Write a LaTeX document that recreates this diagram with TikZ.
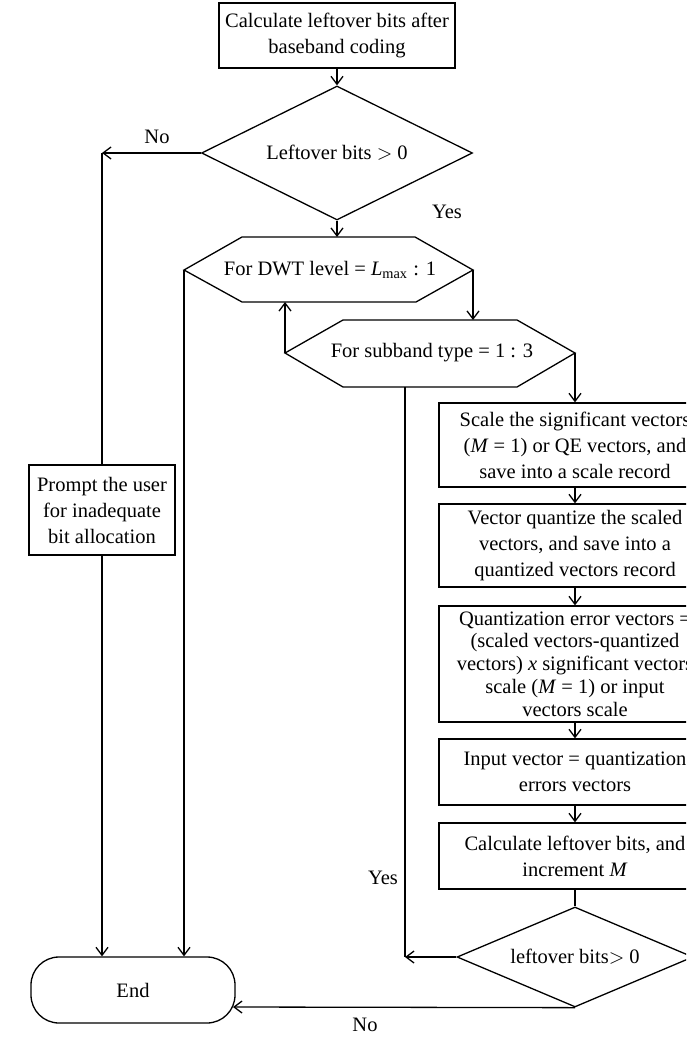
\documentclass[tikz,border=0pt]{standalone}
\usepackage{fontspec}
\setmainfont{Liberation Serif}
\usetikzlibrary{arrows.meta,shapes.geometric}
\begin{document}
\begin{tikzpicture}[x=0.5pt,y=-0.5pt,
  font=\fontsize{10.25}{13}\selectfont,
  line width=0.65pt,
  box/.style={draw, rectangle, inner sep=0pt, align=center},
  dia/.style={draw, diamond, inner sep=0pt, align=center},
  arr/.style={-{Straight Barb[length=4pt,width=6pt]}},
  lab/.style={inner sep=0pt}]
\useasboundingbox (0,0) rectangle (686,1037);
\clip (0,0) rectangle (686,1037);

% nodes
\node[box, minimum width=118pt, minimum height=32.5pt] (top) at (337,35.5)
  {Calculate leftover bits after\\baseband coding};
\node[dia, aspect=2.02, minimum width=135.5pt, minimum height=67pt] (d1) at (337,153)
  {Leftover bits $>$ 0};

% DWT hexagon
\draw (184,270) -- (242,237) -- (415,237) -- (473,270) -- (416,302) -- (242,302) -- cycle;
\node[lab] (dwt) at (330,270) {For DWT level = \textit{L}\textsubscript{max} : 1};
\coordinate (dwtL) at (184,270);
\coordinate (dwtR) at (473,270);
\coordinate (dwtT) at (337,237);
\coordinate (dwtB) at (285,302);

% subband hexagon
\draw (285,353) -- (343,320) -- (517,320) -- (575,353) -- (517,387) -- (343,387) -- cycle;
\node[lab] (sub) at (432,353) {For subband type = 1 : 3};
\coordinate (subL) at (285,353);
\coordinate (subR) at (575,353);
\coordinate (subT) at (473,320);
\coordinate (subB) at (405,387);

% right column
\node[box, minimum width=136pt, minimum height=42pt] (b1) at (575,445)
  {Scale the significant vectors\\(\textit{M} = 1) or QE vectors, and\\save into a scale record};
\node[box, minimum width=136pt, minimum height=41.5pt] (b2) at (575,545.5)
  {Vector quantize the scaled\\vectors, and save into a\\quantized vectors record};
\node[box, minimum width=136pt, minimum height=58pt, font=\fontsize{10.25}{11.4}\selectfont] (b3) at (575,664)
  {Quantization error vectors =\\(scaled vectors-quantized\\vectors) \textit{x} significant vectors\\scale (\textit{M} = 1) or input\\vectors scale};
\node[box, minimum width=136pt, minimum height=33pt] (b4) at (575,772)
  {Input vector = quantization\\errors vectors};
\node[box, minimum width=136pt, minimum height=33pt] (b5) at (575,856)
  {Calculate leftover bits, and\\increment \textit{M}};
\node[dia, aspect=2.36, minimum width=118pt, minimum height=50pt] (d2) at (575,957)
  {leftover bits$>$ 0};

% left column
\node[box, minimum width=73pt, minimum height=45pt] (prompt) at (102,510)
  {Prompt the user\\for inadequate\\bit allocation};
\node[box, rounded corners=14pt, minimum width=102pt, minimum height=33pt] (End) at (133,990) {End};

% connectors
\coordinate (noC) at (102,153);
\coordinate (yesC) at (405,957);
\coordinate (noE) at (233,1007);

\draw[arr] (top.south) -- (d1.north);
\draw[arr] (d1.west) -- (noC);
\draw (noC) -- (prompt.north);
\draw[arr] (prompt.south) -- (prompt.south |- End.north);
\draw[arr] (d1.south) -- (dwtT);
\draw[arr] (dwtR) -- (subT);
\draw[arr] (subL) -- (dwtB);
\draw[arr] (subR) -- (b1.north);
\draw[arr] (b1.south) -- (b2.north);
\draw[arr] (b2.south) -- (b3.north);
\draw[arr] (b3.south) -- (b4.north);
\draw[arr] (b4.south) -- (b5.north);
\draw (b5.south) -- (d2.north);
\draw (subB) -- (yesC);
\draw[arr] (d2.west) -- (yesC);
\draw[arr] (dwtL) -- (dwtL |- End.north);
\draw[arr] (d2.south) -- (noE);

% labels
\node[lab] (lno1) at (157,137) {No};
\node[lab] (lyes1) at (447,212) {Yes};
\node[lab] (lyes2) at (383,878) {Yes};
\node[lab] (lno2) at (365,1025) {No};
\end{tikzpicture}
\end{document}
